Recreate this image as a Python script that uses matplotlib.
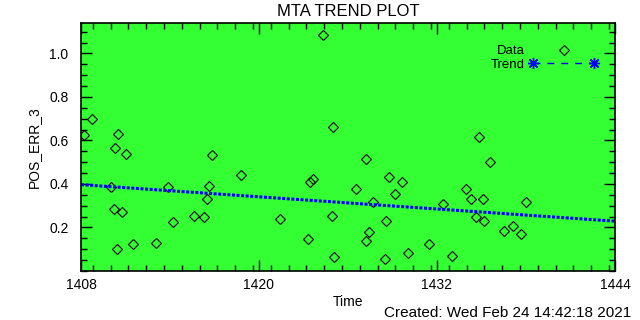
import matplotlib
matplotlib.use("Agg")
import matplotlib.pyplot as plt
from matplotlib.lines import Line2D
from matplotlib.legend_handler import HandlerLine2D
from matplotlib.ticker import MultipleLocator

plt.rcParams['font.family'] = ['Liberation Sans', 'DejaVu Sans']

time = [1408.22, 1408.76, 1410.02, 1410.31, 1410.51, 1410.24, 1410.74, 1411.03,
        1410.45, 1411.52, 1413.07, 1413.88, 1414.20, 1415.63, 1416.31, 1416.51,
        1416.65, 1416.85, 1418.80, 1421.43, 1423.32, 1423.43, 1423.61, 1424.33,
        1425.00, 1424.93, 1425.07, 1426.55, 1427.23, 1427.23, 1427.43, 1427.66,
        1428.51, 1428.57, 1428.77, 1429.18, 1429.65, 1430.06, 1431.47, 1432.41,
        1433.02, 1433.96, 1434.30, 1434.64, 1434.84, 1435.07, 1435.18, 1435.58,
        1436.52, 1437.13, 1437.67, 1438.01]
pos_err = [0.623, 0.701, 0.384, 0.565, 0.628, 0.283, 0.269, 0.536,
           0.099, 0.126, 0.131, 0.384, 0.224, 0.255, 0.246, 0.333,
           0.390, 0.532, 0.439, 0.240, 0.149, 0.410, 0.422, 1.087,
           0.660, 0.255, 0.065, 0.375, 0.517, 0.140, 0.177, 0.315,
           0.056, 0.228, 0.430, 0.356, 0.410, 0.085, 0.126, 0.310,
           0.067, 0.379, 0.329, 0.249, 0.614, 0.329, 0.228, 0.503,
           0.186, 0.205, 0.168, 0.315]
trend_time = [1408.0, 1444.0]
trend_val = [0.397, 0.229]

x_ticks = [1408, 1420, 1432, 1444]
y_ticks = [0.2, 0.4, 0.6, 0.8, 1.0]

fig = plt.figure(figsize=(6.4, 3.2), dpi=100)
ax = fig.add_axes([81/640, 1 - 271/320, 534/640, 248/320])
ax.set_facecolor('#33ff33')

ax.plot(time, pos_err, linestyle='none', marker='D', markersize=4.6,
        markerfacecolor='none', markeredgecolor='black', markeredgewidth=0.8)
ax.plot(trend_time, trend_val, color='#0000ff', linewidth=2.2,
        dashes=(1.0, 0.5))

ax.set_xlim(1408, 1444)
ax.set_ylim(0, 1.14)
ax.set_xticks(x_ticks)
ax.set_xticklabels([str(t) for t in x_ticks])
ax.set_yticks(y_ticks)
ax.set_yticklabels([f"{v:.1f}" for v in y_ticks])
ax.xaxis.set_minor_locator(MultipleLocator(1.2))
ax.yaxis.set_minor_locator(MultipleLocator(0.05))
ax.tick_params(which='both', direction='in', top=True, right=True, color='black')
ax.tick_params(which='major', length=8, width=1)
ax.tick_params(which='minor', length=4.5, width=1)
ax.tick_params(axis='x', pad=5, labelsize=10)
ax.tick_params(axis='y', pad=9, labelsize=10)
for s in ax.spines.values():
    s.set_linewidth(1.2)

ax.set_title('MTA TREND PLOT', fontsize=12, pad=5)
ax.set_xlabel('Time', fontsize=10, labelpad=2)
ax.set_ylabel('POS_ERR_3', fontsize=10, labelpad=6)
fig.text(631/640, 1 - 313/320, 'Created: Wed Feb 24 14:42:18 2021',
         ha='right', va='center', fontsize=11)

h_data = Line2D([], [], linestyle='none', marker='D', markersize=4.6,
                markerfacecolor='none', markeredgecolor='black', markeredgewidth=0.8)
h_trend = Line2D([], [], color='#0000ff', linewidth=1.0, dashes=(5, 5),
                 marker=(8, 2, 0), markersize=8, markeredgewidth=1.0)
ax.legend([h_data, h_trend], ['Data', 'Trend'], loc='upper right',
          bbox_to_anchor=((594 - 81) / 534, (271 - 45) / 248),
          frameon=False, markerfirst=False, fontsize=9.5, handlelength=61 / 13.2,
          handletextpad=0.6, labelspacing=0.12, borderpad=0, borderaxespad=0,
          handler_map={h_trend: HandlerLine2D(numpoints=2, marker_pad=0),
                       h_data: HandlerLine2D(numpoints=1)})

fig.savefig('out.png', dpi=100, facecolor='white')
